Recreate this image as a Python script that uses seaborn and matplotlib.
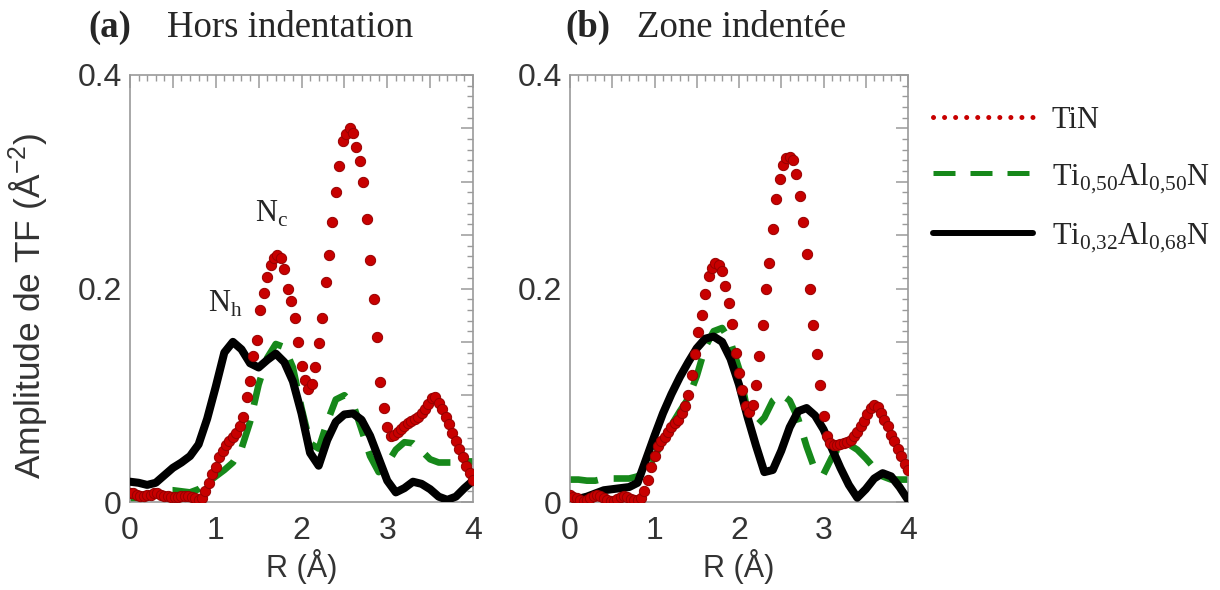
import matplotlib
matplotlib.use("Agg")
import matplotlib.pyplot as plt
from matplotlib.lines import Line2D
from matplotlib.ticker import MultipleLocator, FuncFormatter
import seaborn as sns

# ---------------------------------------- DATA ----------------------------------------
# fine sampling (TiN, drawn as dots)
r_fine = [0.00, 0.04, 0.08, 0.12, 0.16, 0.20, 0.24, 0.28, 0.32, 0.36,
          0.40, 0.44, 0.48, 0.52, 0.56, 0.60, 0.64, 0.68, 0.72, 0.76,
          0.80, 0.84, 0.88, 0.92, 0.96, 1.00, 1.04, 1.08, 1.12, 1.16,
          1.20, 1.24, 1.28, 1.32, 1.36, 1.40, 1.44, 1.48, 1.52, 1.56,
          1.60, 1.64, 1.68, 1.72, 1.76, 1.80, 1.84, 1.88, 1.92, 1.96,
          2.00, 2.04, 2.08, 2.12, 2.16, 2.20, 2.24, 2.28, 2.32, 2.36,
          2.40, 2.44, 2.48, 2.52, 2.56, 2.60, 2.64, 2.68, 2.72, 2.76,
          2.80, 2.84, 2.88, 2.92, 2.96, 3.00, 3.04, 3.08, 3.12, 3.16,
          3.20, 3.24, 3.28, 3.32, 3.36, 3.40, 3.44, 3.48, 3.52, 3.56,
          3.60, 3.64, 3.68, 3.72, 3.76, 3.80, 3.84, 3.88, 3.92, 3.96,
          4.00]

tin_a = [0.008, 0.008, 0.007, 0.006, 0.006, 0.007, 0.007, 0.008, 0.008, 0.007,
         0.006, 0.006, 0.005, 0.005, 0.005, 0.006, 0.006, 0.006, 0.005, 0.004,
         0.002, 0.004, 0.010, 0.018, 0.026, 0.033, 0.042, 0.048, 0.053, 0.057,
         0.061, 0.065, 0.071, 0.080, 0.098, 0.113, 0.137, 0.152, 0.180, 0.196,
         0.211, 0.222, 0.229, 0.231, 0.229, 0.218, 0.200, 0.188, 0.172, 0.150,
         0.127, 0.114, 0.106, 0.111, 0.126, 0.149, 0.172, 0.206, 0.231, 0.262,
         0.290, 0.315, 0.338, 0.345, 0.350, 0.346, 0.333, 0.319, 0.300, 0.265,
         0.227, 0.190, 0.155, 0.112, 0.088, 0.070, 0.062, 0.063, 0.066, 0.068,
         0.071, 0.074, 0.076, 0.078, 0.080, 0.083, 0.087, 0.092, 0.097, 0.098,
         0.093, 0.087, 0.080, 0.073, 0.065, 0.057, 0.050, 0.042, 0.034, 0.027,
         0.021]

tin_b = [0.007, 0.005, 0.004, 0.002, 0.001, 0.002, 0.004, 0.006, 0.007, 0.006,
         0.004, 0.002, 0.001, 0.001, 0.003, 0.005, 0.006, 0.005, 0.003, 0.002,
         0.002, 0.004, 0.010, 0.021, 0.033, 0.043, 0.052, 0.057, 0.061, 0.066,
         0.070, 0.074, 0.077, 0.083, 0.090, 0.100, 0.119, 0.139, 0.159, 0.175,
         0.195, 0.212, 0.219, 0.224, 0.222, 0.216, 0.202, 0.186, 0.167, 0.140,
         0.121, 0.105, 0.090, 0.084, 0.091, 0.110, 0.137, 0.166, 0.200, 0.224,
         0.256, 0.284, 0.303, 0.316, 0.322, 0.323, 0.320, 0.307, 0.287, 0.262,
         0.232, 0.200, 0.166, 0.139, 0.110, 0.081, 0.062, 0.055, 0.053, 0.053,
         0.054, 0.055, 0.056, 0.058, 0.062, 0.066, 0.071, 0.076, 0.082, 0.088,
         0.091, 0.089, 0.083, 0.077, 0.071, 0.063, 0.057, 0.050, 0.043, 0.036,
         0.030]

# coarse sampling (the two TiAlN films)
r_coarse = [0.0, 0.1, 0.2, 0.3, 0.4, 0.5, 0.6, 0.7, 0.8, 0.9,
            1.0, 1.1, 1.2, 1.3, 1.4, 1.5, 1.6, 1.7, 1.8, 1.9,
            2.0, 2.1, 2.2, 2.3, 2.4, 2.5, 2.6, 2.7, 2.8, 2.9,
            3.0, 3.1, 3.2, 3.3, 3.4, 3.5, 3.6, 3.7, 3.8, 3.9,
            4.0]

ti50_a = [0.002, 0.003, 0.006, 0.009, 0.011, 0.011, 0.010, 0.009, 0.012, 0.018,
          0.024, 0.030, 0.037, 0.050, 0.075, 0.110, 0.135, 0.148, 0.145, 0.126,
          0.088, 0.055, 0.050, 0.075, 0.096, 0.100, 0.092, 0.068, 0.043, 0.028,
          0.036, 0.049, 0.056, 0.055, 0.048, 0.040, 0.037, 0.037, 0.037, 0.038,
          0.038]

ti32_a = [0.019, 0.018, 0.016, 0.018, 0.025, 0.032, 0.037, 0.043, 0.054, 0.078,
          0.108, 0.140, 0.150, 0.143, 0.130, 0.126, 0.133, 0.139, 0.131, 0.113,
          0.083, 0.046, 0.034, 0.058, 0.075, 0.082, 0.083, 0.077, 0.062, 0.041,
          0.020, 0.009, 0.013, 0.019, 0.017, 0.012, 0.005, 0.002, 0.005, 0.013,
          0.020]

ti50_b = [0.021, 0.021, 0.020, 0.020, 0.022, 0.022, 0.022, 0.022, 0.024, 0.030,
          0.042, 0.058, 0.072, 0.085, 0.097, 0.118, 0.145, 0.160, 0.163, 0.150,
          0.125, 0.085, 0.071, 0.079, 0.095, 0.101, 0.095, 0.078, 0.052, 0.030,
          0.026, 0.042, 0.053, 0.054, 0.049, 0.041, 0.032, 0.024, 0.021, 0.021,
          0.021]

ti32_b = [0.004, 0.003, 0.005, 0.008, 0.011, 0.012, 0.013, 0.014, 0.018, 0.040,
          0.062, 0.083, 0.101, 0.117, 0.131, 0.144, 0.153, 0.155, 0.150, 0.134,
          0.110, 0.080, 0.053, 0.028, 0.030, 0.048, 0.070, 0.085, 0.088, 0.081,
          0.068, 0.050, 0.032, 0.016, 0.004, 0.012, 0.022, 0.027, 0.024, 0.014,
          0.002]

labels = ["TiN",
          r"Ti$_{0{,}50}$Al$_{0{,}50}$N",
          r"Ti$_{0{,}32}$Al$_{0{,}68}$N"]

RED = "#c80000"
GREEN = "#16881a"
BLACK = "black"
FRAME = "#9a9a9a"

# ---------------------------------------- STYLE ----------------------------------------
sns.set_style("white")
plt.rcParams["font.family"] = ["Liberation Sans", "DejaVu Sans"]
plt.rcParams["mathtext.fontset"] = "custom"
plt.rcParams["mathtext.rm"] = "Liberation Serif"
plt.rcParams["mathtext.sf"] = "Liberation Sans"

fig = plt.figure(figsize=(12.2, 5.9), dpi=100)
ax_a = fig.add_axes([130 / 1220, 1 - 502 / 590, 343 / 1220, 427 / 590])
ax_b = fig.add_axes([570 / 1220, 1 - 502 / 590, 338 / 1220, 427 / 590])


def draw_panel(ax, tin, ti50, ti32):
    sns.lineplot(x=r_coarse, y=ti50, ax=ax, color=GREEN, lw=4.8,
                 linestyle=(0, (4.2, 2.4)), dash_capstyle="butt", zorder=2)
    sns.lineplot(x=r_coarse, y=ti32, ax=ax, color=BLACK, lw=5.8, zorder=3)
    sns.scatterplot(x=r_fine, y=tin, ax=ax, s=55, color=RED,
                    edgecolor="#960000", linewidth=0.7, zorder=4)
    ax.set_xlim(0, 4)
    ax.set_ylim(0, 0.4)
    ax.xaxis.set_major_locator(MultipleLocator(0.5))
    ax.xaxis.set_minor_locator(MultipleLocator(0.1))
    ax.yaxis.set_major_locator(MultipleLocator(0.05))
    ax.yaxis.set_minor_locator(MultipleLocator(0.01))
    ax.xaxis.set_major_formatter(FuncFormatter(
        lambda v, p: "%d" % round(v) if abs(v - round(v)) < 1e-6 else ""))
    ax.yaxis.set_major_formatter(FuncFormatter(
        lambda v, p: ("0" if abs(v) < 1e-6 else "%.1f" % v)
        if abs(v * 5 - round(v * 5)) < 1e-6 else ""))
    ax.tick_params(which="both", direction="in", top=True, right=True,
                   color=FRAME, labelcolor="#333333", labelsize=23)
    ax.tick_params(which="major", length=9, width=1.1)
    ax.tick_params(which="minor", length=4.5, width=1.0)
    ax.tick_params(axis="x", which="major", pad=10)
    ax.tick_params(axis="y", which="major", pad=6)
    for sp in ax.spines.values():
        sp.set_color(FRAME)
        sp.set_linewidth(1.2)
    ax.set_xlabel("R (Å)", fontsize=22, color="#333333")
    ax.xaxis.set_label_coords(0.5, -0.11)
    ax.set_ylabel("")


draw_panel(ax_a, tin_a, ti50_a, ti32_a)
draw_panel(ax_b, tin_b, ti50_b, ti32_b)

ax_a.set_ylabel(r"Amplitude de TF (Å$^{\mathsf{-2}}$)", fontsize=25.5, color="#333333")
ax_a.yaxis.set_label_coords(-0.233, 0.46)

# peak annotations
ax_a.text(0.91, 0.178, r"N$_{\mathrm{h}}$", family="Liberation Serif", fontsize=22,
          ha="left", va="baseline")
ax_a.text(1.46, 0.262, r"N$_{\mathrm{c}}$", family="Liberation Serif", fontsize=22,
          ha="left", va="baseline")

# panel titles
ty = 1 - 37 / 590
fig.text(88 / 1220, ty, "(a)", family="Liberation Serif", fontweight="bold",
         fontsize=26.5, va="baseline")
fig.text(167 / 1220, ty, "Hors indentation", family="Liberation Serif",
         fontsize=26.5, va="baseline")
fig.text(565 / 1220, ty, "(b)", family="Liberation Serif", fontweight="bold",
         fontsize=26.5, va="baseline")
fig.text(637 / 1220, ty, "Zone indentée", family="Liberation Serif",
         fontsize=26.5, va="baseline")

# legend
handles = [
    Line2D([], [], color=RED, lw=3.6, linestyle=(0, (0.01, 2.2)),
           dash_capstyle="round"),
    Line2D([], [], color=GREEN, lw=3.6, linestyle=(0, (4.4, 3.0))),
    Line2D([], [], color=BLACK, lw=4.3),
]
fig.legend(handles, labels, loc="center left",
           bbox_to_anchor=(933 / 1220, 1 - 180 / 590), frameon=False,
           prop={"family": "Liberation Serif", "size": 22},
           handlelength=3.27, handletextpad=0.62, labelspacing=0.85,
           borderpad=0, borderaxespad=0)

fig.savefig("out.png", dpi=100, facecolor="white")
